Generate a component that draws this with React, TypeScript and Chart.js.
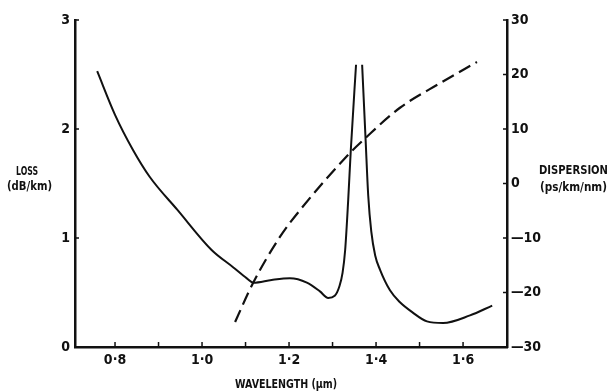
import React, { useEffect, useRef } from "react";
import { Chart, registerables } from "chart.js";

Chart.register(...registerables);

// Loss curve (solid, left axis, dB/km); null marks the clipped top of the water peak
const lossWavelength = [0.759, 0.8, 0.841, 0.88, 0.943, 1.022, 1.072, 1.103, 1.118, 1.16, 1.202, 1.241, 1.271, 1.29, 1.305, 1.316, 1.323, 1.329, 1.336, 1.342, 1.354, 1.361, 1.368, 1.376, 1.382, 1.389, 1.398, 1.409, 1.432, 1.455, 1.483, 1.517, 1.554, 1.616, 1.667];
const lossValues: (number | null)[] = [2.53, 2.13, 1.81, 1.56, 1.26, 0.89, 0.73, 0.63, 0.59, 0.615, 0.63, 0.59, 0.51, 0.45, 0.47, 0.56, 0.68, 0.89, 1.35, 1.81, 2.59, null, 2.59, 1.9, 1.39, 1.06, 0.84, 0.71, 0.52, 0.41, 0.32, 0.235, 0.22, 0.29, 0.38];

// Dispersion curve (dashed, right axis, ps/km/nm)
const dispWavelength = [1.076, 1.117, 1.179, 1.225, 1.34, 1.375, 1.455, 1.547, 1.632];
const dispValues = [-25.4, -18.3, -9.8, -4.9, 5.6, 8.3, 13.9, 18.4, 22.3];

// Axis ticks
const xTicks = [0.8, 0.9, 1.0, 1.1, 1.2, 1.3, 1.4, 1.5, 1.6];
const xLabelTicks = [0.8, 1.0, 1.2, 1.4, 1.6];
const lossTicks = [0, 1, 2, 3];
const dispTicks = [-30, -20, -10, 0, 10, 20, 30];

const FONT = "'DejaVu Sans Condensed', 'DejaVu Sans', sans-serif";
const INK = "#111";

const fmtDot = (v: number) => v.toFixed(1).replace(".", "\u00b7");

// draw condensed text: squeezes the string horizontally to a given width
function narrowText(ctx: CanvasRenderingContext2D, text: string, x: number, y: number, width: number, align: "left" | "center") {
  const w = ctx.measureText(text).width;
  const sx = Math.min(1, width / w);
  ctx.save();
  const left = align === "center" ? x - (w * sx) / 2 : x;
  ctx.translate(left, y);
  ctx.scale(sx, 1);
  ctx.textAlign = "left";
  ctx.fillText(text, 0, 0);
  ctx.restore();
}

const decor = {
  id: "decor",
  afterDraw(chart: any) {
    const ctx = chart.ctx;
    const { x, y, y1 } = chart.scales;
    const area = chart.chartArea;
    ctx.save();
    ctx.strokeStyle = INK;
    ctx.lineWidth = 1.5;
    ctx.beginPath();
    xTicks.forEach((v) => {
      const px = x.getPixelForValue(v);
      ctx.moveTo(px, area.bottom);
      ctx.lineTo(px, area.bottom - 5);
    });
    lossTicks.forEach((v) => {
      const py = y.getPixelForValue(v);
      ctx.moveTo(area.left, py);
      ctx.lineTo(area.left + 4, py);
    });
    dispTicks.forEach((v) => {
      const py = y1.getPixelForValue(v);
      ctx.moveTo(area.right, py);
      ctx.lineTo(area.right - 4, py);
    });
    ctx.stroke();

    ctx.fillStyle = INK;
    ctx.font = `bold 13px ${FONT}`;
    ctx.textBaseline = "middle";
    narrowText(ctx, "LOSS", 27, 172, 22, "center");
    narrowText(ctx, "(dB/km)", 29.5, 187, 45, "center");
    narrowText(ctx, "DISPERSION", 539, 171, 69, "left");
    narrowText(ctx, "(ps/km/nm)", 540, 188, 67, "left");
    narrowText(ctx, "WAVELENGTH (\u03bcm)", 286, 385, 102, "center");
    ctx.restore();
  },
};

export default function App() {
  const ref = useRef<HTMLCanvasElement | null>(null);

  useEffect(() => {
    if (!ref.current) return;
    const lossData = lossWavelength.map((w, i) => ({ x: w, y: lossValues[i] }));
    const dispData = dispWavelength.map((w, i) => ({ x: w, y: dispValues[i] }));
    const tickFont = { family: FONT, size: 14, weight: "bold" as const };

    const chart = new Chart(ref.current, {
      type: "line",
      data: {
        datasets: [
          {
            label: "Loss",
            data: lossData as any,
            yAxisID: "y",
            borderColor: INK,
            borderWidth: 2,
            pointRadius: 0,
            cubicInterpolationMode: "monotone",
            spanGaps: false,
            fill: false,
          },
          {
            label: "Dispersion",
            data: dispData as any,
            yAxisID: "y1",
            borderColor: INK,
            borderWidth: 2.2,
            borderDash: [13, 6],
            pointRadius: 0,
            cubicInterpolationMode: "monotone",
            fill: false,
          },
        ],
      },
      options: {
        animation: false,
        responsive: false,
        maintainAspectRatio: false,
        layout: { padding: { top: 20, left: 0, right: 0, bottom: 0 } },
        plugins: { legend: { display: false }, tooltip: { enabled: false } },
        scales: {
          x: {
            type: "linear",
            min: 0.708,
            max: 1.701,
            position: "bottom",
            grid: { display: true, drawOnChartArea: false, drawTicks: false },
            border: { display: true, color: INK, width: 2.5 },
            afterBuildTicks: (s: any) => {
              s.ticks = xLabelTicks.map((v) => ({ value: v }));
            },
            afterFit: (s: any) => {
              s.height = 45;
            },
            ticks: {
              color: INK,
              font: tickFont,
              padding: 5,
              maxRotation: 0,
              autoSkip: false,
              callback: (v: any) => fmtDot(Number(v)),
            },
          },
          y: {
            type: "linear",
            position: "left",
            min: 0,
            max: 3,
            grid: { display: true, drawOnChartArea: false, drawTicks: false },
            border: { display: true, color: INK, width: 2.5 },
            afterBuildTicks: (s: any) => {
              s.ticks = lossTicks.map((v) => ({ value: v }));
            },
            afterFit: (s: any) => {
              s.width = 75;
            },
            ticks: { color: INK, font: tickFont, padding: 5 },
          },
          y1: {
            type: "linear",
            position: "right",
            min: -30,
            max: 30,
            grid: { display: true, drawOnChartArea: false, drawTicks: false },
            border: { display: true, color: INK, width: 2.5 },
            afterBuildTicks: (s: any) => {
              s.ticks = dispTicks.map((v) => ({ value: v }));
            },
            afterFit: (s: any) => {
              s.width = 104;
            },
            ticks: {
              color: INK,
              font: tickFont,
              padding: 4,
              callback: (v: any) => (Number(v) < 0 ? "\u2014" + Math.abs(Number(v)) : String(v)),
            },
          },
        },
      },
      plugins: [decor],
    });
    return () => chart.destroy();
  }, []);

  return (
    <div style={{ position: "absolute", left: 0, top: 0, width: 611, height: 392, background: "#fff" }}>
      <canvas ref={ref} width={611} height={392} style={{ width: 611, height: 392 }} />
    </div>
  );
}
